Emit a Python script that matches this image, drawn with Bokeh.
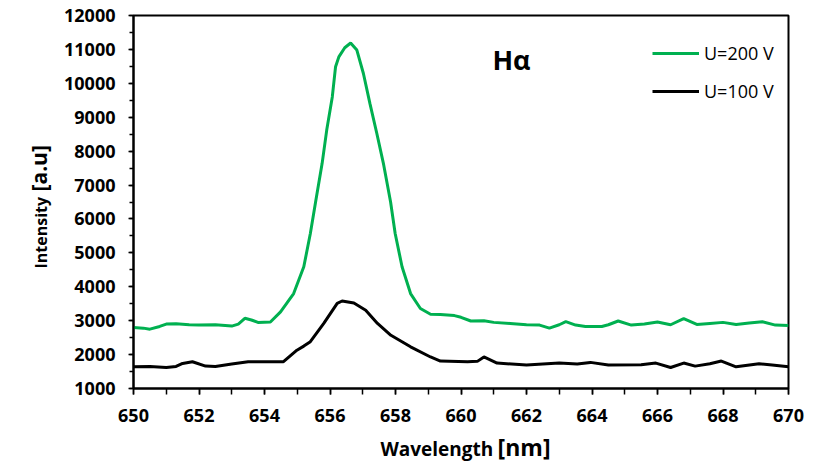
import math
from bokeh.plotting import figure
from bokeh.layouts import row, column
from bokeh.models import (SingleIntervalTicker, Range1d, Legend, LegendItem, Label)
from bokeh.embed import file_html
from bokeh.resources import INLINE

# ---- data ----
wl_200 = [650.0, 650.3, 650.5, 650.8, 651.0, 651.3, 651.7, 652.0, 652.5, 653.0, 653.2, 653.4,
          653.6, 653.8, 654.18, 654.49, 654.89, 655.2, 655.4, 655.56, 655.76, 655.9, 656.07,
          656.17, 656.27, 656.45, 656.63, 656.82, 657.02, 657.22, 657.43, 657.63, 657.85,
          657.99, 658.2, 658.46, 658.76, 659.07, 659.37, 659.8, 660.0, 660.3, 660.7, 661.0,
          661.5, 662.0, 662.4, 662.7, 663.0, 663.2, 663.5, 663.8, 664.3, 664.5, 664.8, 665.2,
          665.6, 666.0, 666.4, 666.8, 667.2, 667.6, 668.0, 668.4, 668.8, 669.2, 669.6, 670.0]
int_200 = [2800, 2780, 2750, 2830, 2900, 2910, 2880, 2870, 2880, 2840, 2900, 3070,
           3020, 2950, 2960, 3260, 3800, 4590, 5570, 6500, 7640, 8620, 9600,
           10490, 10780, 11050, 11190, 10980, 10290, 9400, 8520, 7640, 6500,
           5570, 4590, 3800, 3360, 3190, 3180, 3150, 3100, 2990, 3000, 2950,
           2920, 2880, 2870, 2780, 2880, 2970, 2870, 2830, 2830, 2880, 2990, 2870,
           2900, 2960, 2880, 3060, 2890, 2920, 2950, 2890, 2930, 2970, 2870, 2860]

wl_100 = [650.0, 650.5, 651.0, 651.3, 651.5, 651.8, 652.2, 652.5, 653.0, 653.5, 654.0, 654.58,
          654.99, 655.2, 655.4, 655.81, 656.22, 656.37, 656.73, 657.09, 657.45, 657.86, 658.46,
          659.07, 659.37, 660.2, 660.5, 660.7, 661.1, 662.0, 663.0, 663.55, 663.95, 664.5,
          665.5, 665.95, 666.4, 666.8, 667.15, 667.6, 667.95, 668.4, 669.1, 669.5, 670.0]
int_100 = [1640, 1650, 1620, 1650, 1740, 1790, 1660, 1650, 1720, 1790, 1790, 1790,
           2130, 2250, 2380, 2920, 3510, 3580, 3520, 3310, 2920, 2570, 2230,
           1930, 1810, 1790, 1800, 1930, 1750, 1690, 1750, 1720, 1770, 1690,
           1700, 1750, 1620, 1750, 1660, 1730, 1810, 1640, 1730, 1690, 1640]

x_ticks_interval = 2
y_ticks_interval = 1000
label_200 = "U=200 V"
label_100 = "U=100 V"
title_text = "Hα"
x_label_main = "Wavelength"
x_label_unit = "[nm]"
y_label_main = "Intensity"
y_label_unit = "[a.u]"

FONT = "Open Sans"
GREEN = "#00B050"

LEFT_W = 60
MAIN_H = 426
TOTAL_W, TOTAL_H = 821, 463

# ---------------- main chart ----------------
p = figure(width=TOTAL_W - LEFT_W, height=MAIN_H, output_backend="svg", toolbar_location=None,
           x_range=Range1d(650, 670), y_range=Range1d(1000, 12000),
           min_border_left=133 - LEFT_W, min_border_right=33, min_border_top=15,
           min_border_bottom=MAIN_H - 388)

p.xgrid.visible = False
p.ygrid.visible = False
p.outline_line_color = "black"
p.outline_line_width = 2
p.outline_line_alpha = 1

r200 = p.line(wl_200, int_200, line_color=GREEN, line_width=3)
r100 = p.line(wl_100, int_100, line_color="black", line_width=3)

for ax in (p.xaxis[0], p.yaxis[0]):
    ax.axis_line_width = 2
    ax.axis_line_color = "black"
    ax.major_tick_line_width = 1.5
    ax.minor_tick_line_width = 1.5
    ax.major_tick_in = 0
    ax.minor_tick_in = 0
    ax.major_label_text_font = FONT
    ax.major_label_text_font_style = "bold"
    ax.major_label_text_font_size = "18px"
    ax.major_label_text_color = "black"

p.xaxis[0].ticker = SingleIntervalTicker(interval=x_ticks_interval, num_minor_ticks=2)
p.yaxis[0].ticker = SingleIntervalTicker(interval=y_ticks_interval, num_minor_ticks=2)
p.xaxis[0].major_tick_out = 6
p.xaxis[0].minor_tick_out = 6
p.yaxis[0].major_tick_out = 5
p.yaxis[0].minor_tick_out = 4
p.xaxis[0].major_label_standoff = 14
p.yaxis[0].major_label_standoff = 13

# H-alpha annotation
p.add_layout(Label(x=660.96, y=10706, text=title_text, text_align="left",
                   text_baseline="alphabetic", text_font=FONT, text_font_style="bold",
                   text_font_size="27px", text_color="black"))

legend = Legend(items=[LegendItem(label=label_200, renderers=[r200]),
                       LegendItem(label=label_100, renderers=[r100])],
                location=(519, 285), padding=0, margin=0, spacing=14,
                glyph_width=47, glyph_height=20, label_height=20, label_standoff=5,
                label_text_font=FONT, label_text_font_size="18px",
                label_text_color="black", border_line_alpha=0,
                background_fill_alpha=0)
p.add_layout(legend)

# ---------------- axis-title strips (pixel coordinates of the whole picture) ----------------
def strip(w, h, xr, yr):
    f = figure(width=w, height=h, output_backend="svg", toolbar_location=None,
               x_range=Range1d(*xr), y_range=Range1d(*yr),
               x_axis_location=None, y_axis_location=None, min_border=0)
    f.xgrid.visible = False
    f.ygrid.visible = False
    f.outline_line_color = None
    return f

def txt(f, x, y, s, size, align="left", angle=0.0):
    f.add_layout(Label(x=x, y=y, text=s, text_align=align, text_baseline="alphabetic",
                       text_font=FONT, text_font_style="bold", text_font_size=size,
                       text_color="black", angle=angle))

bottom = strip(TOTAL_W - LEFT_W, TOTAL_H - MAIN_H, (LEFT_W, TOTAL_W), (TOTAL_H, MAIN_H))
txt(bottom, 478, 448.6, x_label_main, "19px", align="right")
txt(bottom, 483, 446.6, x_label_unit, "23px", align="left")

left = strip(LEFT_W, TOTAL_H, (0, LEFT_W), (TOTAL_H, 0))
txt(left, 47 - 0.4 * 16, 268, y_label_main, "16px", angle=math.pi / 2)
txt(left, 47 - 0.4 * 21, 191, y_label_unit, "21px", angle=math.pi / 2)

layout = row(left, column(p, bottom, spacing=0), spacing=0)

open("out.html", "w").write(file_html(layout, INLINE))
